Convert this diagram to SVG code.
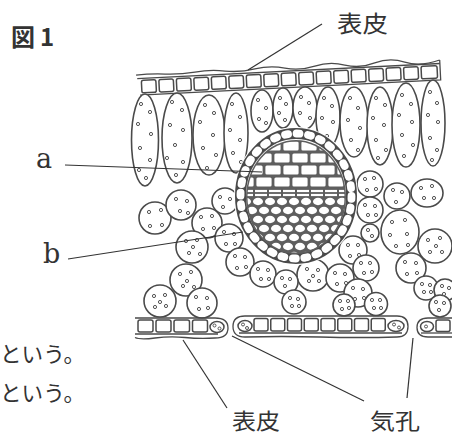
<svg xmlns="http://www.w3.org/2000/svg" width="452" height="436" viewBox="0 0 452 436">
<style>
.ln{fill:none;stroke:#4a4a4a;stroke-width:1.3}
.cell{fill:#fff;stroke:#4a4a4a;stroke-width:1.6}
.ec{fill:#fff;stroke:#4a4a4a;stroke-width:1.5}
.dot{fill:#fff;stroke:#555;stroke-width:1}
.lead{fill:none;stroke:#333;stroke-width:1.2}
.jp{font-family:"Noto Sans CJK JP","Noto Sans CJK SC",sans-serif;fill:#333}
.lat{font-family:"DejaVu Serif","Liberation Serif",serif;fill:#333}
</style>
<defs>
<pattern id="xyl" patternUnits="userSpaceOnUse" x="246" y="140" width="36" height="24">
<rect x="1.4" y="1.4" width="15.2" height="9.2" rx="1.5" fill="#fff"/>
<rect x="19.4" y="1.4" width="15.2" height="9.2" rx="1.5" fill="#fff"/>
<rect x="-7.6" y="13.4" width="15.2" height="9.2" rx="1.5" fill="#fff"/>
<rect x="10.4" y="13.4" width="15.2" height="9.2" rx="1.5" fill="#fff"/>
<rect x="28.4" y="13.4" width="15.2" height="9.2" rx="1.5" fill="#fff"/>
</pattern>
<pattern id="lay" patternUnits="userSpaceOnUse" x="240" y="189" width="14" height="4">
<rect x="1" y="0.9" width="12" height="2.2" fill="#fff"/>
</pattern>
<pattern id="phl" patternUnits="userSpaceOnUse" x="240" y="197" width="12" height="18">
<ellipse cx="6" cy="4.5" rx="5" ry="3.7" fill="#fff"/>
<ellipse cx="0" cy="13.5" rx="5" ry="3.7" fill="#fff"/>
<ellipse cx="12" cy="13.5" rx="5" ry="3.7" fill="#fff"/>
</pattern>
<clipPath id="inner"><ellipse cx="296" cy="197" rx="48.5" ry="55.5"/></clipPath>
</defs>

<g id="upper-epidermis" transform="rotate(-2.87 290 70)">
<path class="ln" d="M136,67.5 Q150,66.5 165,67.8 T195,67.3 T225,67.8 T255,67.2 T285,67.8 T315,67.3 T345,67.8 T375,67.2 T405,67.8 T440,67.5"/>
<path class="ln" d="M137,71 H440"/>
<path class="ln" d="M139,87.5 H440 V67.5"/>
<g class="ec">
<rect x="141" y="73" width="14.5" height="12.5" rx="2"/>
<rect x="158.5" y="73" width="14.5" height="12.5" rx="2"/>
<rect x="176" y="73" width="14.5" height="12.5" rx="2"/>
<rect x="193.5" y="73" width="14.5" height="12.5" rx="2"/>
<rect x="211" y="73" width="14.5" height="12.5" rx="2"/>
<rect x="228.5" y="73" width="14.5" height="12.5" rx="2"/>
<rect x="246" y="73" width="14.5" height="12.5" rx="2"/>
<rect x="263.5" y="73" width="14.5" height="12.5" rx="2"/>
<rect x="281" y="73" width="14.5" height="12.5" rx="2"/>
<rect x="298.5" y="73" width="14.5" height="12.5" rx="2"/>
<rect x="316" y="73" width="14.5" height="12.5" rx="2"/>
<rect x="333.5" y="73" width="14.5" height="12.5" rx="2"/>
<rect x="351" y="73" width="14.5" height="12.5" rx="2"/>
<rect x="368.5" y="73" width="14.5" height="12.5" rx="2"/>
<rect x="386" y="73" width="14.5" height="12.5" rx="2"/>
<rect x="403.5" y="73" width="14.5" height="12.5" rx="2"/>
<rect x="421" y="73" width="16" height="12.5" rx="2"/>
</g>
</g>

<g id="palisade">
<ellipse class="cell" cx="145" cy="140" rx="13.5" ry="46"/>
<ellipse class="cell" cx="177" cy="138" rx="15" ry="45"/>
<ellipse class="cell" cx="209" cy="135" rx="16" ry="40"/>
<ellipse class="cell" cx="236" cy="133" rx="12" ry="40"/>
<ellipse class="cell" cx="262" cy="111" rx="11" ry="21"/>
<ellipse class="cell" cx="283" cy="108" rx="10" ry="20"/>
<ellipse class="cell" cx="305" cy="108" rx="12" ry="21"/>
<ellipse class="cell" cx="328" cy="117" rx="12" ry="30"/>
<ellipse class="cell" cx="354" cy="122" rx="14" ry="35"/>
<ellipse class="cell" cx="380" cy="126" rx="13" ry="39"/>
<ellipse class="cell" cx="406" cy="125" rx="14" ry="42"/>
<ellipse class="cell" cx="433" cy="123" rx="12" ry="43"/>
<g class="dot">
<circle cx="141" cy="104" r="1.6"/><circle cx="150" cy="112" r="1.6"/><circle cx="138" cy="124" r="1.6"/><circle cx="151" cy="134" r="1.6"/><circle cx="140" cy="148" r="1.6"/><circle cx="150" cy="160" r="1.6"/><circle cx="139" cy="170" r="1.6"/><circle cx="146" cy="178" r="1.6"/>
<circle cx="172" cy="102" r="1.6"/><circle cx="182" cy="110" r="1.6"/><circle cx="170" cy="125" r="1.6"/><circle cx="183" cy="130" r="1.6"/><circle cx="175" cy="145" r="1.6"/><circle cx="167" cy="158" r="1.6"/><circle cx="183" cy="162" r="1.6"/><circle cx="176" cy="175" r="1.6"/>
<circle cx="205" cy="105" r="1.6"/><circle cx="214" cy="113" r="1.6"/><circle cx="200" cy="122" r="1.6"/><circle cx="213" cy="135" r="1.6"/><circle cx="203" cy="148" r="1.6"/><circle cx="216" cy="155" r="1.6"/><circle cx="207" cy="168" r="1.6"/>
<circle cx="232" cy="104" r="1.6"/><circle cx="240" cy="117" r="1.6"/><circle cx="230" cy="130" r="1.6"/><circle cx="240" cy="140" r="1.6"/><circle cx="233" cy="153" r="1.6"/><circle cx="241" cy="162" r="1.6"/>
<circle cx="258" cy="100" r="1.6"/><circle cx="266" cy="108" r="1.6"/><circle cx="259" cy="119" r="1.6"/><circle cx="266" cy="123" r="1.6"/>
<circle cx="280" cy="98" r="1.6"/><circle cx="286" cy="104" r="1.6"/><circle cx="279" cy="113" r="1.6"/><circle cx="285" cy="120" r="1.6"/>
<circle cx="301" cy="97" r="1.6"/><circle cx="309" cy="103" r="1.6"/><circle cx="300" cy="113" r="1.6"/><circle cx="310" cy="118" r="1.6"/>
<circle cx="324" cy="98" r="1.6"/><circle cx="332" cy="106" r="1.6"/><circle cx="322" cy="118" r="1.6"/><circle cx="333" cy="122" r="1.6"/><circle cx="327" cy="136" r="1.6"/>
<circle cx="350" cy="98" r="1.6"/><circle cx="358" cy="108" r="1.6"/><circle cx="348" cy="120" r="1.6"/><circle cx="360" cy="128" r="1.6"/><circle cx="351" cy="140" r="1.6"/><circle cx="358" cy="150" r="1.6"/>
<circle cx="376" cy="98" r="1.6"/><circle cx="385" cy="105" r="1.6"/><circle cx="373" cy="118" r="1.6"/><circle cx="384" cy="125" r="1.6"/><circle cx="376" cy="140" r="1.6"/><circle cx="386" cy="150" r="1.6"/><circle cx="378" cy="158" r="1.6"/>
<circle cx="402" cy="95" r="1.6"/><circle cx="411" cy="104" r="1.6"/><circle cx="399" cy="115" r="1.6"/><circle cx="412" cy="122" r="1.6"/><circle cx="402" cy="135" r="1.6"/><circle cx="413" cy="145" r="1.6"/><circle cx="404" cy="156" r="1.6"/>
<circle cx="430" cy="92" r="1.6"/><circle cx="437" cy="103" r="1.6"/><circle cx="428" cy="115" r="1.6"/><circle cx="438" cy="122" r="1.6"/><circle cx="430" cy="138" r="1.6"/><circle cx="437" cy="150" r="1.6"/><circle cx="432" cy="160" r="1.6"/>
</g>
</g>

<g id="spongy">
<circle class="cell" cx="155" cy="218" r="16"/>
<circle class="cell" cx="181" cy="205" r="15"/>
<circle class="cell" cx="207" cy="223" r="15"/>
<circle class="cell" cx="225" cy="201" r="13"/>
<circle class="cell" cx="192" cy="247" r="16"/>
<circle class="cell" cx="229" cy="238" r="14"/>
<circle class="cell" cx="240" cy="262" r="14"/>
<circle class="cell" cx="263" cy="274" r="13"/>
<circle class="cell" cx="186" cy="280" r="16"/>
<circle class="cell" cx="160" cy="301" r="16"/>
<circle class="cell" cx="202" cy="303" r="15"/>
<circle class="cell" cx="370" cy="184" r="13"/>
<circle class="cell" cx="397" cy="196" r="13"/>
<ellipse class="cell" cx="427" cy="193" rx="16" ry="14"/>
<circle class="cell" cx="370" cy="210" r="13"/>
<ellipse class="cell" cx="400" cy="232" rx="19" ry="22"/>
<circle class="cell" cx="435" cy="246" r="17"/>
<circle class="cell" cx="370" cy="233" r="9"/>
<circle class="cell" cx="353" cy="250" r="14"/>
<circle class="cell" cx="411" cy="268" r="15"/>
<circle class="cell" cx="366" cy="268" r="13"/>
<circle class="cell" cx="313" cy="275" r="16"/>
<circle class="cell" cx="340" cy="278" r="14"/>
<circle class="cell" cx="286" cy="282" r="12"/>
<circle class="cell" cx="358" cy="293" r="14"/>
<circle class="cell" cx="426" cy="288" r="12"/>
<circle class="cell" cx="445" cy="290" r="11"/>
<circle class="cell" cx="294" cy="302" r="12"/>
<circle class="cell" cx="344" cy="305" r="11"/>
<circle class="cell" cx="376" cy="304" r="11.5"/>
<circle class="cell" cx="440" cy="306" r="11"/>
<g class="dot">
<circle cx="149" cy="212" r="1.6"/><circle cx="161" cy="210" r="1.6"/><circle cx="150" cy="226" r="1.6"/><circle cx="162" cy="225" r="1.6"/>
<circle cx="176" cy="199" r="1.6"/><circle cx="187" cy="201" r="1.6"/><circle cx="180" cy="211" r="1.6"/><circle cx="188" cy="213" r="1.6"/>
<circle cx="201" cy="217" r="1.6"/><circle cx="212" cy="216" r="1.6"/><circle cx="203" cy="229" r="1.6"/><circle cx="214" cy="228" r="1.6"/>
<circle cx="220" cy="197" r="1.6"/><circle cx="230" cy="199" r="1.6"/><circle cx="223" cy="207" r="1.6"/>
<circle cx="186" cy="241" r="1.6"/><circle cx="197" cy="240" r="1.6"/><circle cx="189" cy="253" r="1.6"/><circle cx="200" cy="254" r="1.6"/><circle cx="193" cy="247" r="1.6"/>
<circle cx="224" cy="232" r="1.6"/><circle cx="234" cy="234" r="1.6"/><circle cx="226" cy="244" r="1.6"/><circle cx="235" cy="244" r="1.6"/>
<circle cx="235" cy="256" r="1.6"/><circle cx="245" cy="257" r="1.6"/><circle cx="237" cy="268" r="1.6"/><circle cx="246" cy="267" r="1.6"/>
<circle cx="258" cy="269" r="1.6"/><circle cx="268" cy="270" r="1.6"/><circle cx="261" cy="279" r="1.6"/><circle cx="269" cy="279" r="1.6"/>
<circle cx="180" cy="274" r="1.6"/><circle cx="191" cy="272" r="1.6"/><circle cx="183" cy="286" r="1.6"/><circle cx="194" cy="287" r="1.6"/><circle cx="187" cy="281" r="1.6"/>
<circle cx="154" cy="296" r="1.6"/><circle cx="165" cy="295" r="1.6"/><circle cx="155" cy="307" r="1.6"/><circle cx="166" cy="306" r="1.6"/><circle cx="160" cy="302" r="1.6"/>
<circle cx="196" cy="297" r="1.6"/><circle cx="207" cy="298" r="1.6"/><circle cx="199" cy="309" r="1.6"/><circle cx="208" cy="308" r="1.6"/>
<circle cx="365" cy="179" r="1.6"/><circle cx="374" cy="178" r="1.6"/><circle cx="367" cy="190" r="1.6"/><circle cx="376" cy="189" r="1.6"/>
<circle cx="393" cy="190" r="1.6"/><circle cx="402" cy="192" r="1.6"/><circle cx="396" cy="202" r="1.6"/>
<circle cx="421" cy="188" r="1.6"/><circle cx="432" cy="186" r="1.6"/><circle cx="424" cy="198" r="1.6"/><circle cx="434" cy="198" r="1.6"/>
<circle cx="365" cy="205" r="1.6"/><circle cx="375" cy="206" r="1.6"/><circle cx="368" cy="215" r="1.6"/><circle cx="376" cy="215" r="1.6"/>
<circle cx="392" cy="222" r="1.6"/><circle cx="405" cy="220" r="1.6"/><circle cx="390" cy="235" r="1.6"/><circle cx="407" cy="234" r="1.6"/><circle cx="396" cy="246" r="1.6"/><circle cx="408" cy="245" r="1.6"/>
<circle cx="428" cy="240" r="1.6"/><circle cx="440" cy="238" r="1.6"/><circle cx="430" cy="252" r="1.6"/><circle cx="442" cy="252" r="1.6"/><circle cx="436" cy="246" r="1.6"/>
<circle cx="368" cy="230" r="1.6"/><circle cx="372" cy="236" r="1.6"/>
<circle cx="348" cy="245" r="1.6"/><circle cx="358" cy="245" r="1.6"/><circle cx="350" cy="256" r="1.6"/><circle cx="359" cy="255" r="1.6"/>
<circle cx="405" cy="262" r="1.6"/><circle cx="416" cy="263" r="1.6"/><circle cx="407" cy="274" r="1.6"/><circle cx="417" cy="273" r="1.6"/>
<circle cx="361" cy="263" r="1.6"/><circle cx="370" cy="263" r="1.6"/><circle cx="364" cy="273" r="1.6"/><circle cx="372" cy="272" r="1.6"/>
<circle cx="307" cy="269" r="1.6"/><circle cx="318" cy="270" r="1.6"/><circle cx="309" cy="281" r="1.6"/><circle cx="319" cy="281" r="1.6"/><circle cx="313" cy="276" r="1.6"/>
<circle cx="335" cy="273" r="1.6"/><circle cx="345" cy="274" r="1.6"/><circle cx="337" cy="284" r="1.6"/><circle cx="346" cy="283" r="1.6"/>
<circle cx="282" cy="278" r="1.6"/><circle cx="290" cy="279" r="1.6"/><circle cx="285" cy="286" r="1.6"/>
<circle cx="353" cy="288" r="1.6"/><circle cx="363" cy="289" r="1.6"/><circle cx="355" cy="299" r="1.6"/><circle cx="364" cy="298" r="1.6"/>
<circle cx="422" cy="284" r="1.6"/><circle cx="430" cy="285" r="1.6"/><circle cx="424" cy="292" r="1.6"/><circle cx="431" cy="292" r="1.6"/>
<circle cx="442" cy="286" r="1.6"/><circle cx="449" cy="288" r="1.6"/><circle cx="444" cy="294" r="1.6"/>
<circle cx="290" cy="298" r="1.6"/><circle cx="298" cy="299" r="1.6"/><circle cx="292" cy="306" r="1.6"/><circle cx="299" cy="306" r="1.6"/>
<circle cx="340" cy="301" r="1.6"/><circle cx="348" cy="301" r="1.6"/><circle cx="342" cy="309" r="1.6"/><circle cx="349" cy="308" r="1.6"/>
<circle cx="372" cy="300" r="1.6"/><circle cx="380" cy="300" r="1.6"/><circle cx="374" cy="308" r="1.6"/><circle cx="381" cy="308" r="1.6"/>
<circle cx="436" cy="302" r="1.6"/><circle cx="444" cy="303" r="1.6"/><circle cx="439" cy="310" r="1.6"/>
</g>
</g>

<g id="vascular-bundle">
<ellipse cx="296" cy="196" rx="62" ry="69" fill="#fff"/>
<ellipse cx="296" cy="196" rx="55.5" ry="62.5" fill="none" stroke="#4a4a4a" stroke-width="11"/>
<ellipse cx="296" cy="196" rx="55.5" ry="62.5" fill="none" stroke="#fff" stroke-width="7.8" stroke-linecap="round" stroke-dasharray="3 8.6"/>
<ellipse cx="296" cy="197" rx="50" ry="57" fill="#5e5e5e"/>
<g clip-path="url(#inner)">
<rect x="240" y="138" width="112" height="51" fill="url(#xyl)"/>
<rect x="240" y="189" width="112" height="8" fill="url(#lay)"/>
<rect x="240" y="197" width="112" height="60" fill="url(#phl)"/>
</g>
</g>

<g id="lower-epidermis">
<path class="ln" d="M135,318 H215 Q228,318 228,328 Q228,338 215,338 Q200,339 185,337.5 T155,338 T135,337.5"/>
<path class="ln" d="M135,334 H218"/>
<g class="ec">
<rect x="138" y="320" width="15" height="12" rx="2"/>
<rect x="156" y="320" width="15" height="12" rx="2"/>
<rect x="174" y="320" width="15.5" height="12" rx="2"/>
<rect x="192.5" y="320" width="15" height="12" rx="2"/>
<ellipse cx="217" cy="327" rx="7" ry="5.5"/>
</g>
<path class="ln" d="M245,316 H397 Q408,316 408,326.5 Q408,337 397,337 Q360,338 320,337 T245,337 Q233,337 233,326.5 Q233,316 245,316 Z"/>
<path class="ln" d="M239,333 H402"/>
<g class="ec">
<ellipse cx="245" cy="326" rx="7" ry="5.5"/>
<rect x="254" y="318.5" width="14" height="12.5" rx="2"/>
<rect x="270.75" y="318.5" width="14" height="12.5" rx="2"/>
<rect x="287.5" y="318.5" width="14" height="12.5" rx="2"/>
<rect x="304.25" y="318.5" width="14" height="12.5" rx="2"/>
<rect x="321" y="318.5" width="14" height="12.5" rx="2"/>
<rect x="337.75" y="318.5" width="14" height="12.5" rx="2"/>
<rect x="354.5" y="318.5" width="14" height="12.5" rx="2"/>
<rect x="371.25" y="318.5" width="14" height="12.5" rx="2"/>
<ellipse cx="396" cy="326" rx="8" ry="5.5"/>
</g>
<path class="ln" d="M452,318 H428 Q417,318 417,327.5 Q417,337 428,337 H452"/>
<path class="ln" d="M421,333 H452"/>
<g class="ec">
<ellipse cx="427" cy="326.5" rx="6.5" ry="5"/>
<rect x="436" y="320" width="14" height="11.5" rx="2"/>
</g>
<g class="dot">
<circle cx="214.5" cy="325.5" r="1.5"/><circle cx="219.5" cy="328.5" r="1.5"/>
<circle cx="243" cy="324.5" r="1.5"/><circle cx="247" cy="328" r="1.5"/>
<circle cx="394" cy="324.5" r="1.5"/><circle cx="399" cy="327.5" r="1.5"/>
<circle cx="426" cy="326.5" r="1.5"/>
</g>
</g>

<g id="connectors">
<line class="lead" x1="322" y1="24" x2="248" y2="70"/>
<line class="lead" x1="65" y1="165" x2="262" y2="172"/>
<line class="lead" x1="68" y1="259" x2="243" y2="232"/>
<line class="lead" x1="227" y1="408" x2="183" y2="340"/>
<line class="lead" x1="364" y1="401" x2="232" y2="336"/>
<line class="lead" x1="407" y1="398" x2="413" y2="338"/>
</g>

<g id="labels">
<text class="jp" y="46" font-size="24" font-weight="bold" fill="#444"><tspan x="11">図</tspan><tspan x="40">1</tspan></text>
<text class="jp" x="337" y="32" font-size="23" textLength="51" lengthAdjust="spacingAndGlyphs">表皮</text>
<text class="lat" x="36" y="168" font-size="27">a</text>
<text class="lat" x="43" y="263" font-size="27">b</text>
<text class="jp" x="0" y="362" font-size="21.5" textLength="85" lengthAdjust="spacingAndGlyphs">という。</text>
<text class="jp" x="0" y="401" font-size="21.5" textLength="85" lengthAdjust="spacingAndGlyphs">という。</text>
<text class="jp" x="232" y="429" font-size="22" textLength="48" lengthAdjust="spacingAndGlyphs">表皮</text>
<text class="jp" x="370" y="429" font-size="22" textLength="50" lengthAdjust="spacingAndGlyphs">気孔</text>
</g>
</svg>
